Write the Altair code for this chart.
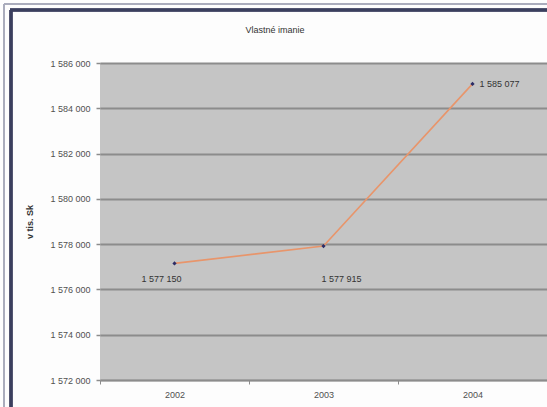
import altair as alt
import pandas as pd

# Equity by year (thousands of SKK)
years = ["2002", "2003", "2004"]
equity = [1577150, 1577915, 1585077]
y_ticks = [1572000, 1574000, 1576000, 1578000, 1580000, 1582000, 1584000, 1586000]
chart_title = "Vlastné imanie"

df = pd.DataFrame({"rok": years, "imanie": equity})

FONT = "Liberation Sans"
GRID = "#8c8c8c"
LABEL = "#505050"
space_fmt = "replace(format(datum.value, ',d'), regexp(',', 'g'), ' ')"

x_enc = alt.X(
    "rok:O",
    scale=alt.Scale(paddingInner=0, paddingOuter=0),
    axis=alt.Axis(
        title=None, labelAngle=0, tickBand="extent", grid=False,
        domainColor=GRID, domainWidth=1.5, tickColor=GRID, tickSize=4,
        labelPadding=6, labelFont=FONT, labelFontSize=9, labelColor=LABEL,
    ),
)
y_enc = alt.Y(
    "imanie:Q",
    scale=alt.Scale(domain=[y_ticks[0], y_ticks[-1]], nice=False, zero=False),
    axis=alt.Axis(
        title="v tis. Sk", values=y_ticks, labelExpr=space_fmt,
        grid=True, gridColor=GRID, gridWidth=2, domain=False,
        tickColor=GRID, tickSize=4, tickWidth=1.5, labelPadding=6,
        labelFont=FONT, labelFontSize=9, labelColor=LABEL,
        titleFont=FONT, titleFontSize=9, titleFontWeight="bold", titleColor="#333333",
        titlePadding=15,
    ),
)

base = alt.Chart(df).encode(x=x_enc, y=y_enc)

line = base.mark_line(color="#e8956b", strokeWidth=1.6)
points = base.mark_point(shape="diamond", filled=True, size=18, color="#2c2c66", opacity=1)


def value_label(year, **kw):
    return (
        base.transform_filter(alt.datum.rok == year)
        .transform_calculate(txt="replace(format(datum.imanie, ',d'), regexp(',', 'g'), ' ')")
        .mark_text(font=FONT, fontSize=9, color="#333333", **kw)
        .encode(text="txt:N")
    )


labels = (
    value_label("2002", align="center", dx=-13, dy=16)
    + value_label("2003", align="left", dx=-2, dy=33)
    + value_label("2004", align="left", dx=7, dy=0)
)

# chart title, centred over the whole framed area
title = (
    alt.Chart(pd.DataFrame({"t": [chart_title]}))
    .mark_text(font=FONT, fontSize=9, color="#333333", align="center", baseline="middle")
    .encode(text="t:N", x=alt.value(175), y=alt.value(-33))
)

# decorative chart frame (outer thin line and inner navy line)
frame = (
    alt.Chart(df).mark_rule(color="#3b3f5e", strokeWidth=3)
    .encode(x=alt.value(-89), y=alt.value(-53), y2=alt.value(344))
    + alt.Chart(df).mark_rule(color="#3b3f5e", strokeWidth=3)
    .encode(x=alt.value(-90), x2=alt.value(447), y=alt.value(-53))
    + alt.Chart(df).mark_rule(color="#a9abbb", strokeWidth=1.5)
    .encode(x=alt.value(-96), y=alt.value(-59), y2=alt.value(344))
    + alt.Chart(df).mark_rule(color="#a9abbb", strokeWidth=1.5)
    .encode(x=alt.value(-96), x2=alt.value(447), y=alt.value(-59))
)

chart = (
    alt.layer(line, points, labels, title, frame)
    .properties(
        width=447,
        height=317,
        padding={"left": 100, "top": 63, "right": 0, "bottom": 27},
        autosize=alt.AutoSizeParams(type="none"),
        background="#fdfdfd",
    )
    .configure_view(fill="#c5c5c5", stroke=None)
)

chart.save("out.html", embed_options={"renderer": "svg", "actions": False})
